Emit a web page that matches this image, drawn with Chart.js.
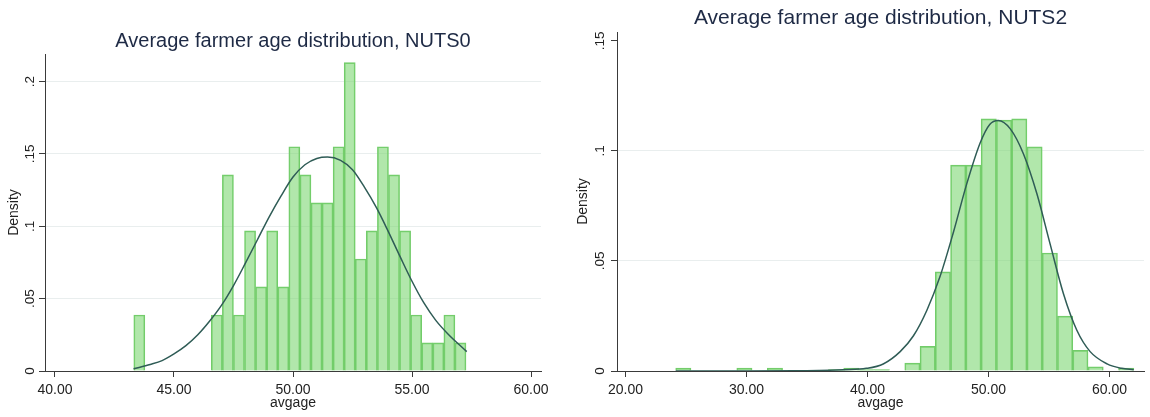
<!DOCTYPE html>
<html>
<head>
<meta charset="utf-8">
<script src="https://cdn.jsdelivr.net/npm/chart.js@4.4.1/dist/chart.umd.min.js"></script>
<style>
  html, body { margin: 0; padding: 0; background: #ffffff; width: 1150px; height: 417px; overflow: hidden; }
  .panel { position: absolute; top: 0; height: 417px; }
</style>
</head>
<body>
<div class="panel" style="left:0; width:560px;"><canvas id="nuts0"></canvas></div>
<div class="panel" style="left:560px; width:590px;"><canvas id="nuts2"></canvas></div>
<script>
// ---------------- DATA ----------------
const nuts0Title = 'Average farmer age distribution, NUTS0';
const nuts2Title = 'Average farmer age distribution, NUTS2';
const xAxisLabel = 'avgage';
const yAxisLabel = 'Density';

// NUTS0 histogram: bin mid-points (avgage) and densities
const nuts0Ages = [43.543, 44.008, 44.473, 44.939, 45.404, 45.869, 46.335, 46.800, 47.265, 47.730,
                   48.196, 48.661, 49.126, 49.592, 50.057, 50.522, 50.988, 51.453, 51.918, 52.383,
                   52.849, 53.314, 53.779, 54.245, 54.710, 55.175, 55.641, 56.106, 56.571, 57.036];
const nuts0Density = [0.0387, 0, 0, 0, 0, 0, 0, 0.0387, 0.1355, 0.0387,
                      0.0968, 0.0581, 0.0968, 0.0581, 0.1549, 0.1355, 0.1162, 0.1162, 0.1549, 0.2130,
                      0.0774, 0.0968, 0.1549, 0.1355, 0.0968, 0.0387, 0.0194, 0.0194, 0.0387, 0.0194];
// NUTS0 normal density overlay
const nuts0CurveAge = [43.3, 44.0, 44.5, 45.0, 45.5, 46.0, 46.5, 47.0, 47.5, 48.0, 48.5, 49.0, 49.5, 50.0,
                       50.5, 51.0, 51.45, 52.0, 52.5, 53.0, 53.5, 54.0, 54.5, 55.0, 55.5, 56.0, 56.5, 57.3];
const nuts0CurveDensity = [0.0015, 0.0045, 0.0072, 0.0118, 0.0175, 0.0250, 0.0345, 0.0455, 0.0590, 0.0745,
                           0.0905, 0.1065, 0.1210, 0.1340, 0.1425, 0.1468, 0.1478, 0.1455, 0.1390, 0.1270,
                           0.1130, 0.0965, 0.0790, 0.0620, 0.0470, 0.0350, 0.0258, 0.0134];
const nuts0XTicks = [40, 45, 50, 55, 60];
const nuts0YTicks = [0, 0.05, 0.1, 0.15, 0.2];
const nuts0YTickLabels = ['0', '.05', '.1', '.15', '.2'];

// NUTS2 histogram
const nuts2Ages = [24.781, 26.043, 27.305, 28.567, 29.829, 31.091, 32.353, 33.615, 34.877, 36.139,
                   37.401, 38.663, 39.925, 41.187, 42.449, 43.711, 44.973, 46.235, 47.497, 48.759,
                   50.021, 51.283, 52.545, 53.807, 55.069, 56.331, 57.593, 58.855, 60.117, 61.379];
const nuts2Density = [0.0013, 0, 0, 0, 0.0013, 0, 0.0013, 0, 0, 0,
                      0.0006, 0.0013, 0.0006, 0.0006, 0, 0.0036, 0.0112, 0.0450, 0.0935, 0.0935,
                      0.1145, 0.1140, 0.1145, 0.1018, 0.0536, 0.0249, 0.0094, 0.0019, 0, 0.0013];
const nuts2CurveAge = [24.15, 30.0, 34.0, 36.0, 38.0, 39.9, 41.3, 42.7, 43.8, 44.9, 46.0, 47.1, 48.2,
                       49.3, 50.1, 50.8, 51.8, 52.9, 54.0, 55.1, 56.2, 57.3, 58.4, 59.8, 61.0, 62.0];
const nuts2CurveDensity = [0, 0, 0.0001, 0.0002, 0.0006, 0.0012, 0.0032, 0.0088, 0.0160, 0.0275, 0.0430,
                           0.0630, 0.0850, 0.1035, 0.1120, 0.1138, 0.1100, 0.0985, 0.0805, 0.0575,
                           0.0350, 0.0185, 0.0088, 0.0032, 0.0012, 0.0006];
const nuts2XTicks = [20, 30, 40, 50, 60];
const nuts2YTicks = [0, 0.05, 0.1, 0.15];
const nuts2YTickLabels = ['0', '.05', '.1', '.15'];

// ---------------- STYLE ----------------
const FONT = "Arial, 'Liberation Sans', Helvetica, sans-serif";
const TITLE_COLOR = '#1e2a45';
const TEXT_COLOR = '#222222';
const AXIS_COLOR = '#3a3a3a';
const GRID_COLOR = '#e9eeee';
const BAR_FILL = 'rgba(125, 215, 115, 0.6)';
const BAR_EDGE = '#72cb6a';
const CURVE_COLOR = '#2f5c56';

function makeChart(id, p) {
  const bars = p.ages.map((a, i) => ({ x: a, y: p.density[i] }));
  const curve = p.curveAge.map((a, i) => ({ x: a, y: p.curveDensity[i] }));
  return new Chart(document.getElementById(id), {
    type: 'bar',
    data: {
      datasets: [
        { type: 'line', data: curve, borderColor: CURVE_COLOR, borderWidth: 1.5, pointRadius: 0,
          cubicInterpolationMode: 'monotone', fill: false, order: 0 },
        { type: 'bar', data: bars, backgroundColor: BAR_FILL, borderColor: BAR_EDGE, borderWidth: 1,
          barPercentage: 1, categoryPercentage: 1, order: 1 }
      ]
    },
    options: {
      responsive: true, maintainAspectRatio: false, animation: false,
      layout: { padding: { left: 0, right: p.padRight, top: 0, bottom: 0 } },
      plugins: {
        legend: { display: false },
        tooltip: { enabled: false },
        title: { display: true, text: p.title, fullSize: false,
                 font: { family: FONT, size: p.titleSize, weight: 'normal' }, color: TITLE_COLOR,
                 padding: { top: p.titleTop, bottom: p.titleBottom } }
      },
      scales: {
        x: {
          type: 'linear', min: p.xMin, max: p.xMax, offset: false,
          afterBuildTicks: ax => { ax.ticks = p.xTicks.map(v => ({ value: v })); },
          afterFit: ax => { ax.height = 46; ax.paddingLeft = 0; ax.paddingRight = 0; },
          ticks: { callback: v => Number(v).toFixed(2), font: { family: FONT, size: 14 }, color: TEXT_COLOR,
                   padding: 5, maxRotation: 0, minRotation: 0, autoSkip: false },
          grid: { display: true, drawOnChartArea: false, drawTicks: true, tickLength: 6,
                  tickColor: AXIS_COLOR, offset: false },
          border: { display: true, color: AXIS_COLOR, width: 1 },
          title: { display: true, text: xAxisLabel, font: { family: FONT, size: 14 }, color: TEXT_COLOR,
                   padding: { top: 0, bottom: 5.5 } }
        },
        y: {
          type: 'linear', min: 0, max: p.yMax,
          afterBuildTicks: ax => { ax.ticks = p.yTicks.map(v => ({ value: v })); },
          afterFit: ax => { ax.width = p.yAxisWidth; ax.paddingTop = 0; ax.paddingBottom = 0; },
          ticks: { callback: v => p.yTickLabels[p.yTicks.indexOf(v)], minRotation: 90, maxRotation: 90,
                   crossAlign: 'center', padding: p.yTickPad, font: { family: FONT, size: 13.5 }, color: TEXT_COLOR },
          grid: { color: c => (c.tick && p.gridSkip.indexOf(c.tick.value) >= 0) ? 'rgba(0,0,0,0)' : GRID_COLOR,
                  lineWidth: 1, tickColor: AXIS_COLOR, tickLength: 6, drawTicks: true },
          border: { display: true, color: AXIS_COLOR, width: 1 },
          title: { display: true, text: yAxisLabel, font: { family: FONT, size: 14 }, color: TEXT_COLOR,
                   padding: { top: p.yTitlePad, bottom: 0 } }
        }
      }
    }
  });
}

makeChart('nuts0', {
  title: nuts0Title, ages: nuts0Ages, density: nuts0Density,
  curveAge: nuts0CurveAge, curveDensity: nuts0CurveDensity,
  xTicks: nuts0XTicks, yTicks: nuts0YTicks, yTickLabels: nuts0YTickLabels,
  xMin: 39.58, xMax: 60.42, yMax: 0.219, gridSkip: [0],
  padRight: 19, yAxisWidth: 45, titleSize: 20, titleTop: 29.7, titleBottom: 0.3, yTickPad: -0.3, yTitlePad: 6.2
});
makeChart('nuts2', {
  title: nuts2Title, ages: nuts2Ages, density: nuts2Density,
  curveAge: nuts2CurveAge, curveDensity: nuts2CurveDensity,
  xTicks: nuts2XTicks, yTicks: nuts2YTicks, yTickLabels: nuts2YTickLabels,
  xMin: 19.3, xMax: 62.85, yMax: 0.154, gridSkip: [0, 0.15],
  padRight: 6, yAxisWidth: 57, titleSize: 21, titleTop: 5.8, titleBottom: 1.0, yTickPad: 1.7, yTitlePad: 14.5
});
</script>
</body>
</html>
